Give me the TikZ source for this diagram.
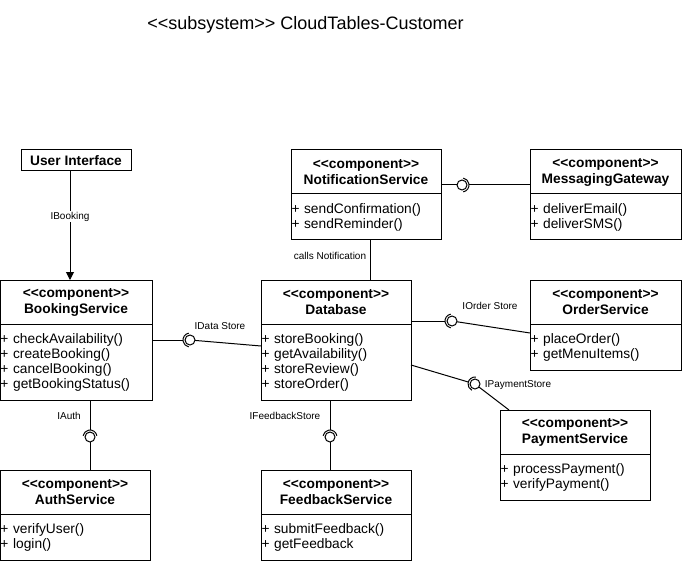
\documentclass[tikz,border=0pt]{standalone}
\usepackage{fontspec}
\setmainfont{Liberation Sans}
\usetikzlibrary{positioning,arrows.meta}

\begin{document}
\begin{tikzpicture}[x=1pt,y=1pt,line width=1pt,
    every node/.append style={outer sep=0pt},
    head/.style={draw,align=center,minimum height=44pt,inner sep=0pt,
      font=\fontsize{13.75}{16}\selectfont\bfseries},
    ops/.style={draw,align=left,inner xsep=0.5pt,inner ysep=0pt,
      font=\fontsize{13.75}{15}\selectfont},
    lbl/.style={font=\fontsize{10}{12}\selectfont},
    ball/.style={draw,circle,minimum size=10pt,inner sep=0pt}]

    \useasboundingbox (0,0) rectangle (682,-561);

    \node[font=\fontsize{18}{20}\selectfont] (title) at (305.5,-25) {<{}<subsystem>{}> CloudTables-Customer};

    \node[draw,minimum width=110pt,minimum height=21pt,inner sep=0pt,
      font=\fontsize{13.75}{15}\selectfont\bfseries] (ui) at (76,-160.5) {User Interface};

    \node[head,minimum width=152pt] (bookH) at (76,-302) {<{}<component>{}>\\BookingService};
    \node[ops,text width=151pt,minimum height=76pt,below=0pt of bookH] (bookO)
      {+ checkAvailability()\\+ createBooking()\\+ cancelBooking()\\+ getBookingStatus()};

    \node[head,minimum width=150pt] (dbH) at (336,-302) {<{}<component>{}>\\Database};
    \node[ops,text width=149pt,minimum height=76pt,below=0pt of dbH] (dbO)
      {+ storeBooking()\\+ getAvailability()\\+ storeReview()\\+ storeOrder()};

    \node[head,minimum width=150pt] (notifH) at (366,-172) {<{}<component>{}>\\NotificationService};
    \node[ops,text width=149pt,minimum height=46pt,below=0pt of notifH] (notifO)
      {+ sendConfirmation()\\+ sendReminder()};

    \node[head,minimum width=151pt] (msgH) at (605.5,-172) {<{}<component>{}>\\MessagingGateway};
    \node[ops,text width=150pt,minimum height=46pt,below=0pt of msgH] (msgO)
      {+ deliverEmail()\\+ deliverSMS()};

    \node[head,minimum width=151pt] (orderH) at (605.5,-302) {<{}<component>{}>\\OrderService};
    \node[ops,text width=150pt,minimum height=46pt,below=0pt of orderH] (orderO)
      {+ placeOrder()\\+ getMenuItems()};

    \node[head,minimum width=150pt] (payH) at (575,-432) {<{}<component>{}>\\PaymentService};
    \node[ops,text width=149pt,minimum height=46pt,below=0pt of payH] (payO)
      {+ processPayment()\\+ verifyPayment()};

    \node[head,minimum width=150pt] (authH) at (75,-492) {<{}<component>{}>\\AuthService};
    \node[ops,text width=149pt,minimum height=46pt,below=0pt of authH] (authO)
      {+ verifyUser()\\+ login()};

    \node[head,minimum width=150pt] (fbH) at (336,-492) {<{}<component>{}>\\FeedbackService};
    \node[ops,text width=149pt,minimum height=46pt,below=0pt of fbH] (fbO)
      {+ submitFeedback()\\+ getFeedback};

    \draw[-{Triangle[length=8pt,width=8pt]}] ([xshift=-6pt]ui.south) -- ([xshift=-6pt]bookH.north)
      node[lbl,fill=white,inner sep=1pt,pos=0.42] (ibook) {IBooking};

    \draw ([xshift=4pt]notifO.south) -- ([xshift=4pt]notifO.south |- dbH.north);
    \node[lbl] (calls) at (330,-256) {calls Notification};

    \node[ball] (dsBall) at (190,-340) {};
    \draw (bookO.east |- dsBall) -- ([xshift=-7pt]dsBall.center);
    \draw ([shift={(100:7pt)}]dsBall.center) arc[start angle=100,end angle=260,radius=7pt];
    \draw (dsBall) -- ([yshift=-22pt]dbO.north west);
    \node[lbl] (dsLbl) at (220,-326) {IData Store};

    \node[ball] (nmBall) at (462,-185) {};
    \draw (notifH.east |- nmBall) -- (nmBall);
    \draw ([shift={(-80:7pt)}]nmBall.center) arc[start angle=-80,end angle=80,radius=7pt];
    \draw ([xshift=7pt]nmBall.center) -- (msgH.west |- nmBall);

    \node[ball] (oBall) at (452,-321) {};
    \draw (dbH.east |- oBall) -- ([xshift=-7pt]oBall.center);
    \draw ([shift={(100:7pt)}]oBall.center) arc[start angle=100,end angle=260,radius=7pt];
    \draw (oBall) -- ([yshift=-9pt]orderO.north west);
    \node[lbl] (oLbl) at (490,-306) {IOrder Store};

    \node[ball] (pBall) at (475,-384) {};
    \draw ([yshift=-41pt]dbO.north east) -- ([shift={(163.5:7pt)}]pBall.center);
    \draw ([shift={(83.5:7pt)}]pBall.center) arc[start angle=83.5,end angle=243.5,radius=7pt];
    \draw (pBall) -- ([xshift=9pt]payH.north west);
    \node[lbl] (pLbl) at (518,-385) {IPaymentStore};

    \node[ball] (aBall) at (90,-437) {};
    \draw (bookO.south -| aBall) -- ([yshift=7pt]aBall.center);
    \draw ([shift={(10:7pt)}]aBall.center) arc[start angle=10,end angle=170,radius=7pt];
    \draw (aBall) -- (authH.north -| aBall);
    \node[lbl] (aLbl) at (69,-416) {IAuth};

    \node[ball] (fBall) at (330,-437) {};
    \draw (dbO.south -| fBall) -- ([yshift=7pt]fBall.center);
    \draw ([shift={(10:7pt)}]fBall.center) arc[start angle=10,end angle=170,radius=7pt];
    \draw (fBall) -- (fbH.north -| fBall);
    \node[lbl] (fLbl) at (285,-416) {IFeedbackStore};
\end{tikzpicture}
\end{document}
